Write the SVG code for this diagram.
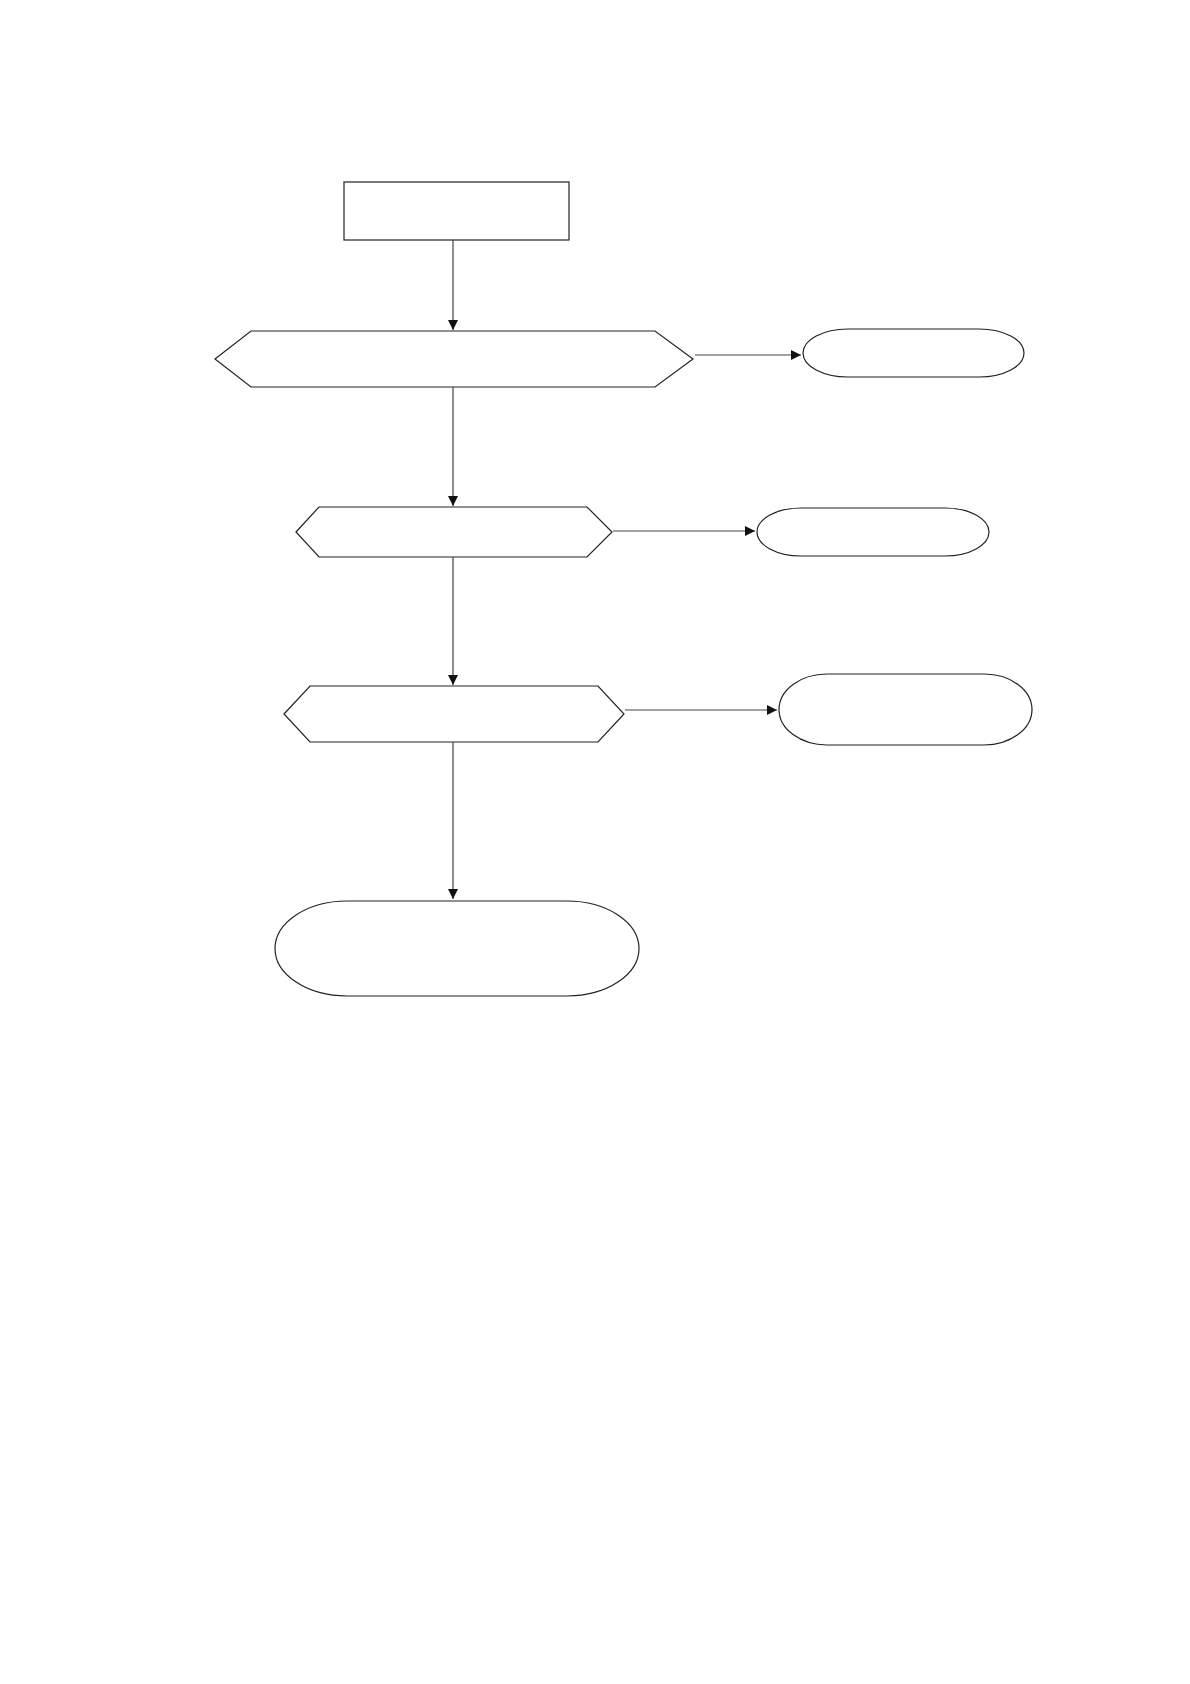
<svg xmlns="http://www.w3.org/2000/svg" width="1190" height="1684" viewBox="0 0 1190 1684">
<style>
.n{fill:#fff;stroke:#222;stroke-width:1.2}
.c{fill:none;stroke:#444;stroke-width:1.2}
</style>
<defs>
<marker id="ah" viewBox="0 0 10 10" refX="10" refY="5" markerWidth="10" markerHeight="10" markerUnits="userSpaceOnUse" orient="auto">
<path d="M0,0 L10,5 L0,10 Z" fill="#111"/>
</marker>
</defs>
<rect width="1190" height="1684" fill="#fff"/>
<g id="start"><rect class="n" x="344" y="182" width="225" height="58"/></g>
<g id="decision1"><polygon class="n" points="215,359 251,331 655,331 693,359 655,387 251,387"/></g>
<g id="end1"><rect class="n" x="803" y="329" width="221" height="48" rx="45" ry="24"/></g>
<g id="decision2"><polygon class="n" points="296,532 319,507 587,507 612,532 587,557 319,557"/></g>
<g id="end2"><rect class="n" x="757" y="508" width="232" height="48" rx="44" ry="24"/></g>
<g id="decision3"><polygon class="n" points="284,714 310,686 598,686 624,714 598,742 310,742"/></g>
<g id="end3"><rect class="n" x="779" y="674" width="253" height="71" rx="48" ry="35.5"/></g>
<g id="end4"><rect class="n" x="275" y="901" width="364" height="95" rx="72" ry="47.5"/></g>
<g id="connectors">
<line class="c" x1="453" y1="240" x2="453" y2="330" marker-end="url(#ah)"/>
<line class="c" x1="453" y1="387" x2="453" y2="506" marker-end="url(#ah)"/>
<line class="c" x1="453" y1="557" x2="453" y2="685" marker-end="url(#ah)"/>
<line class="c" x1="453" y1="742" x2="453" y2="899" marker-end="url(#ah)"/>
<line class="c" x1="695" y1="355" x2="801" y2="355" marker-end="url(#ah)"/>
<line class="c" x1="613" y1="531" x2="755" y2="531" marker-end="url(#ah)"/>
<line class="c" x1="625" y1="710" x2="777" y2="710" marker-end="url(#ah)"/>
</g>
</svg>
